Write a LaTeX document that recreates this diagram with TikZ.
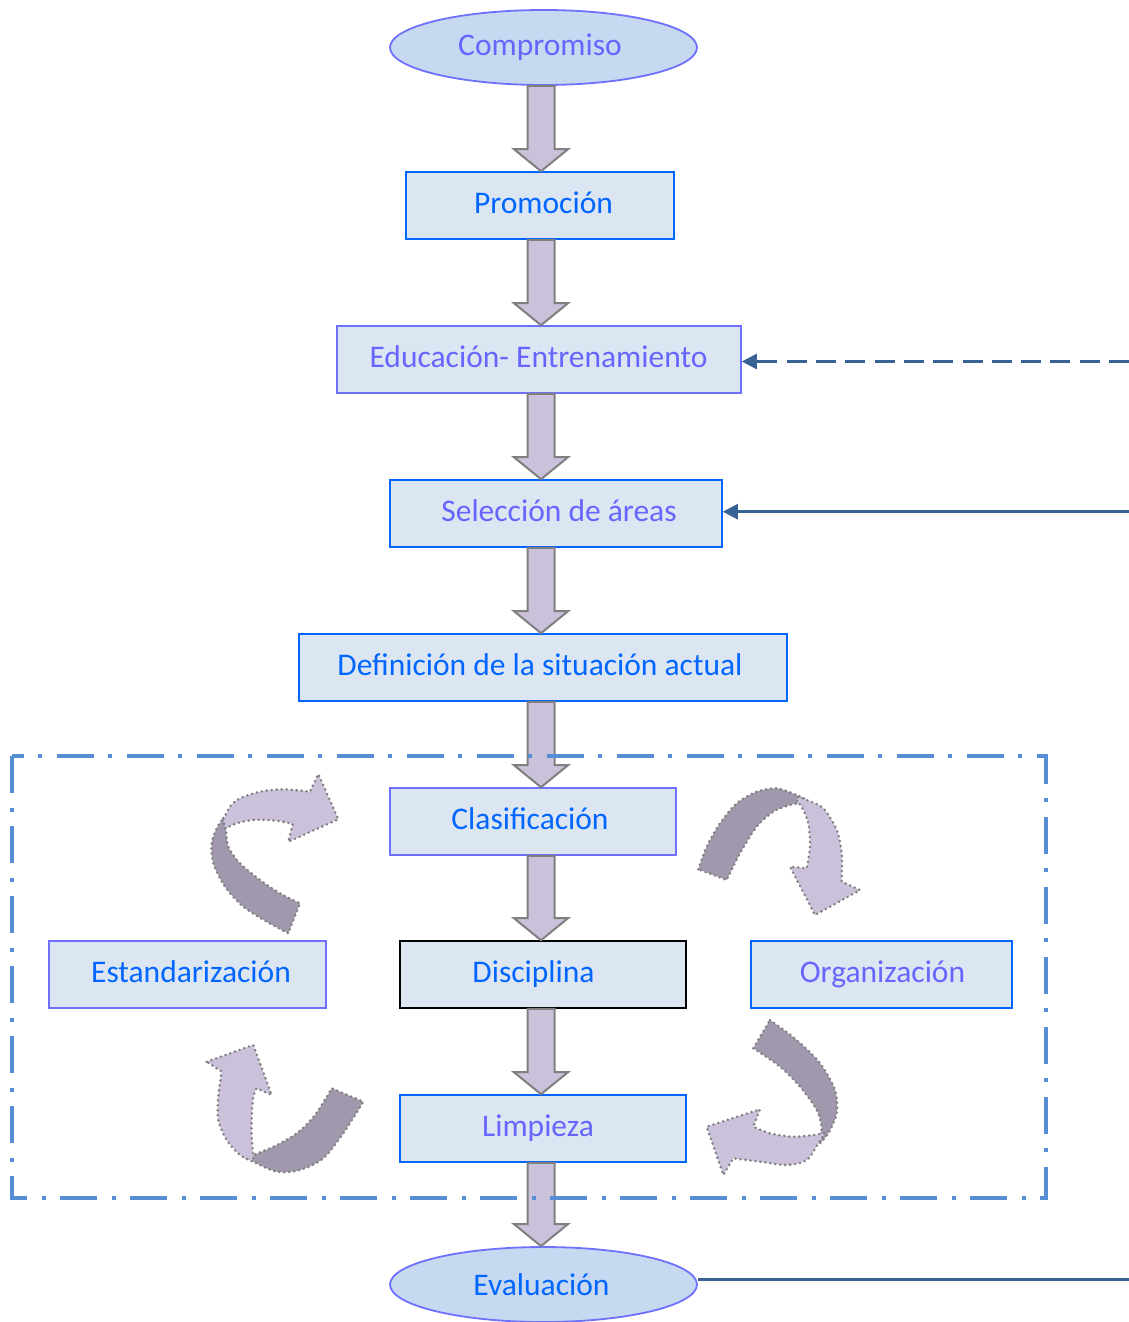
\documentclass[tikz,border=0pt]{standalone}
\usepackage{fontspec}
\setmainfont{Carlito}
\usetikzlibrary{shapes.geometric,arrows.meta,calc}
\definecolor{tblue}{HTML}{0066FF}
\definecolor{tpurp}{HTML}{6666FF}
\definecolor{bpurp}{HTML}{7070FF}
\definecolor{boxfill}{HTML}{DCE6F2}
\definecolor{ellfill}{HTML}{C6D9F1}
\definecolor{arrfill}{HTML}{CCC1DA}
\definecolor{arrdark}{HTML}{A198AD}
\definecolor{arrline}{HTML}{7F7F7F}
\definecolor{framec}{HTML}{558ED5}
\definecolor{fbc}{HTML}{386294}
\tikzset{
  box/.style={draw, fill=boxfill, line width=1.6pt, minimum height=67pt, inner sep=0pt,
    font=\fontsize{31.5}{36}\selectfont},
  ell/.style={ellipse, draw=bpurp, fill=ellfill, line width=1.8pt, minimum width=307pt,
    minimum height=75pt, inner sep=0pt, font=\fontsize{31.5}{36}\selectfont},
  barr/.style={draw=arrline, fill=arrfill, line width=2pt, line join=miter},
  carr/.style={draw=arrline, line width=2.8pt, dash pattern=on 0pt off 5pt, line cap=round},
  framebox/.style={draw=framec, line width=4pt, dash pattern=on 37pt off 15pt on 4pt off 14pt},
  fbline/.style={draw=fbc, line width=2.7pt},
  fbtip/.style={-{Triangle[length=15pt,width=15pt]}}
}
% shift text: #1 = 2*dx, #2 = 2*dy
\newcommand\tx[3]{\hspace*{#1}\raisebox{#2}{#3}}
\newcommand\blockarrow[2]{%
  \path[barr] let \p1=(#1.south), \p2=(#2.north) in
    (527.5pt,\y1) -- (554.5pt,\y1) -- (554.5pt,\y2+22pt) -- (568pt,\y2+22pt) --
    (541pt,\y2) -- (514pt,\y2+22pt) -- (527.5pt,\y2+22pt) -- cycle;}
\begin{document}
\begin{tikzpicture}[x=1pt,y=-1pt]
\useasboundingbox (0,0) rectangle (1129,1322);

% nodes
\node[ell, text=tpurp] (comp) at (543.5,47.5) {\tx{-7pt}{-7pt}{Compromiso}};
\node[box, draw=tblue, text=tblue, minimum width=268pt] (prom) at (540,205.5) {\tx{7pt}{5pt}{Promoción}};
\node[box, draw=bpurp, text=tpurp, minimum width=404pt] (edu) at (539,359.5) {\tx{-1pt}{5pt}{Educación- Entrenamiento}};
\node[box, draw=tblue, text=tpurp, minimum width=332pt] (sel) at (556,513.5) {\tx{6pt}{5pt}{Selección de áreas}};
\node[box, draw=tblue, text=tblue, minimum width=488pt] (def) at (543,667.5) {\tx{-6pt}{5pt}{Definición de la situación actual}};
\node[box, draw=bpurp, text=tblue, minimum width=286pt] (clas) at (533,821.5) {\tx{-6pt}{5pt}{Clasificación}};
\node[box, draw=bpurp, text=tblue, minimum width=277pt] (est) at (187.5,974.5) {\tx{7pt}{5pt}{Estandarización}};
\node[box, draw=black, text=tblue, minimum width=286pt] (dis) at (543,974.5) {\tx{-19pt}{5pt}{Disciplina}};
\node[box, draw=tblue, text=tpurp, minimum width=261pt] (org) at (881.5,974.5) {\tx{2pt}{5pt}{Organización}};
\node[box, draw=tblue, text=tpurp, minimum width=286pt] (lim) at (543,1128.5) {\tx{-10pt}{5pt}{Limpieza}};
\node[ell, text=tblue] (eva) at (543.5,1284.5) {\tx{-4pt}{-4pt}{Evaluación}};

% block arrows
\blockarrow{comp}{prom}
\blockarrow{prom}{edu}
\blockarrow{edu}{sel}
\blockarrow{sel}{def}
\blockarrow{def}{clas}
\blockarrow{clas}{dis}
\blockarrow{dis}{lim}
\blockarrow{lim}{eva}

% frame
\draw[framebox] (12,756) rectangle (1046,1198);

% feedback lines
\coordinate (fbA) at (1129,361.5);
\coordinate (fbB) at (1129,511.7);
\coordinate (fbC) at (1129,1279);
\draw[fbline, fbtip, dash pattern=on 20pt off 9.3pt] (fbA) -- (fbA -| edu.east);
\draw[fbline, fbtip] (fbB) -- (fbB -| sel.east);
\draw[fbline, line width=3pt] (fbC -| eva.east) -- (fbC);

% curved arrow A (upper left)
\path[carr, fill=arrdark] (223.3,818) -- plot[smooth] coordinates {(226,828.3) (228.3,846.7) (240,863.3) (260,880) (280,893.3) (300,903.3)}
  -- plot[smooth] coordinates {(288.3,933.3) (266.7,921.7) (243.3,906.7) (225,886.7) (213.3,863.3) (211.7,843.3) (216.7,828.3) (223.3,818)} -- cycle;
\path[carr, fill=arrfill] plot[smooth] coordinates {(225,828.3) (236.7,823.3) (253.3,820) (276.7,820.7) (292.7,824)}
  -- (288.3,841.7) -- (338.3,819.3) -- (318.3,774)
  -- plot[smooth] coordinates {(310,791.7) (283.3,789.3) (260,791.7) (240,798.3) (230,806.7) (223.3,820)} -- cycle;

% curved arrow B (upper right)
\path[carr, fill=arrdark] plot[smooth] coordinates {(698.3,869.3) (706.7,846.7) (720,823.3) (736.7,803.3) (756.7,791.7) (776.7,788.3) (796.7,795) (806.7,800)}
  -- plot[smooth] coordinates {(800,803.3) (790,805) (773.3,811.7) (756.7,826.7) (740,853.3) (726.7,880)} -- cycle;
\path[carr, fill=arrfill] plot[smooth] coordinates {(798,797) (806.7,800) (823.3,808.3) (836.7,830) (841.7,853.3) (841.7,873.3) (841.7,881.7)}
  -- (860,890) -- (815,915) -- (790,866.7)
  -- plot[smooth] coordinates {(806.7,868.3) (810,846.7) (808.3,823.3) (801.7,806.7) (796.7,801.7)} -- cycle;

% curved arrow C (lower left)
\path[carr, fill=arrdark] plot[smooth] coordinates {(246,1158) (273.3,1146.7) (296.7,1133.3) (315,1115) (331.7,1088.3)}
  -- plot[smooth] coordinates {(363.3,1101.7) (343.3,1133.3) (323.3,1158.3) (300,1170) (276.7,1171.7) (253.3,1161.7)} -- cycle;
\path[carr, fill=arrfill] (206.7,1061.7) -- (253.3,1045) -- (271.7,1095)
  -- plot[smooth] coordinates {(256.7,1088.3) (253.3,1096.7) (251.7,1116.7) (251.7,1136.7) (253.3,1156.7)}
  -- plot[smooth] coordinates {(253.3,1161.7) (240,1155) (226.7,1140) (218.3,1120) (218.3,1096.7) (221.7,1071.7)} -- cycle;

% curved arrow D (lower right)
\path[carr, fill=arrdark] plot[smooth] coordinates {(770,1020) (796.7,1040) (820,1063.3) (835,1090) (836.7,1113.3) (828.3,1133.3) (820,1143.3)}
  -- plot[smooth] coordinates {(818.3,1136.7) (821.7,1128.3) (816.7,1110) (800,1086.7) (780,1066.7) (753.3,1048.3)} -- cycle;
\path[carr, fill=arrfill] plot[smooth] coordinates {(824,1133.3) (813.3,1135) (793.3,1136.7) (770,1133.3) (753.3,1126.7)}
  -- (760,1109.3) -- (706.7,1126.7) -- (723.3,1175)
  -- plot[smooth] coordinates {(733.3,1158.3) (760,1161.7) (786.7,1165) (806.7,1160) (818.3,1143.3) (824,1135)} -- cycle;
\end{tikzpicture}
\end{document}
